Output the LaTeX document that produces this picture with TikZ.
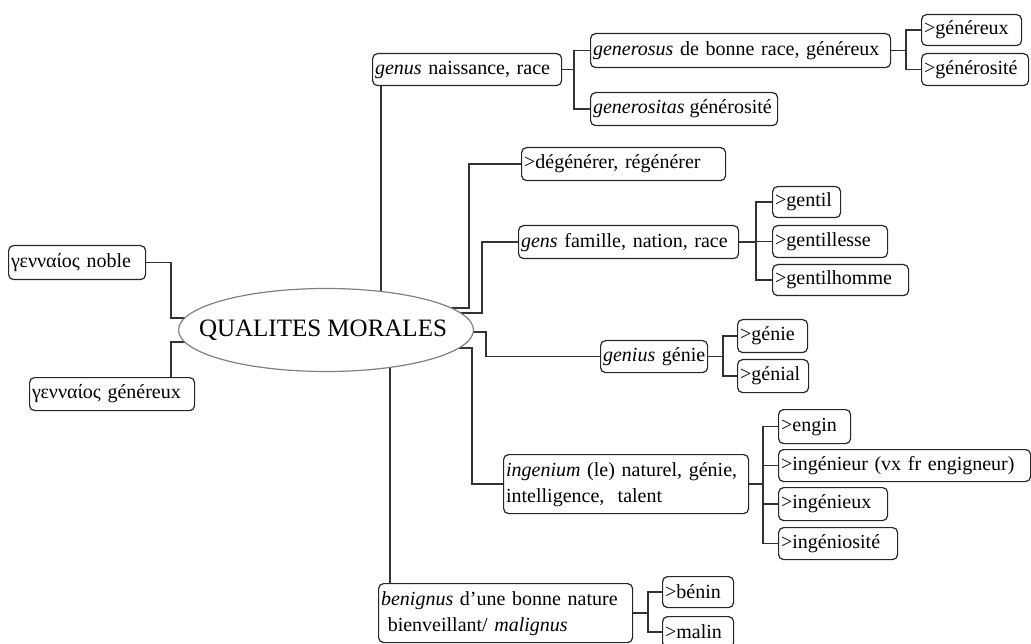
\documentclass[tikz,border=0pt]{standalone}
\usepackage{fontspec}
\setmainfont{Liberation Serif}
\usetikzlibrary{backgrounds}
\newcommand\bxnode[6]{%
  \pgfmathsetmacro\bxw{#4-#2-5}%
  \pgfmathsetmacro\bxh{#5-#3}%
  \node[box, text width=\bxw pt, minimum height=\bxh pt] (#1) at (#2,#3) {\mbox{#6}};}
\newcommand\twolines[2]{\begin{tabular}{@{}l@{}}#1\\#2\end{tabular}}
\begin{document}
\begin{tikzpicture}[x=1pt,y=-1pt,
  box/.style={draw=black!85, line width=1.2pt, rounded corners=5pt, inner xsep=2.5pt, inner ysep=0pt,
    anchor=north west, align=left, font=\fontsize{20}{26.5}\selectfont},
  conn/.style={draw=black!80, line width=1.5pt},
  hubline/.style={draw=black!50, line width=1.2pt, fill=white},
  hubtext/.style={inner sep=0pt, font=\fontsize{25}{30}\selectfont}]
\useasboundingbox (0,0) rectangle (1031,644);
\clip (0,0) rectangle (1031,644);

\path[hubline] (326,330) ellipse [x radius=147.5pt, y radius=41.5pt];
\node[hubtext] (qm) at (323,330) {QUALITES MORALES};

\bxnode{noble}{8}{245}{145}{279}{γενναίος noble}
\bxnode{gen2}{29}{377}{194}{410}{γενναίος généreux}

\bxnode{genus}{372}{53}{561}{85}{\textit{genus} naissance, race}
\bxnode{generosus}{590}{33}{890}{67}{\textit{generosus} de bonne race, généreux}
\bxnode{generositas}{590}{92}{777}{125}{\textit{generositas}\hspace{0.25em}générosité}
\bxnode{genereux}{921}{14}{1021}{45}{>généreux}
\bxnode{generosite}{921}{53}{1028}{85}{>générosité}

\bxnode{degen}{521}{147}{725}{180}{>dégénérer, régénérer}
\bxnode{gens}{518}{225}{738}{258}{\textit{gens} famille, nation, race}
\bxnode{gentil}{772}{186}{840}{217}{>gentil}
\bxnode{gentillesse}{772}{225}{887}{257}{>gentillesse}
\bxnode{gentilhomme}{772}{264}{908}{295}{>gentilhomme}

\bxnode{genius}{600}{340}{707}{372}{\textit{genius} génie}
\bxnode{genie}{737}{319}{807}{352}{>génie}
\bxnode{genial}{737}{359}{808}{392}{>génial}

\bxnode{ingenium}{503}{454}{748}{513}{\twolines{\textit{ingenium} (le) naturel, génie,}{intelligence,\ \ talent}}
\bxnode{engin}{778}{409}{850}{443}{>engin}
\bxnode{ingenieur}{778}{449}{1030}{481}{>ingénieur (vx fr engigneur)}
\bxnode{ingenieux}{778}{487}{887}{520}{>ingénieux}
\bxnode{ingeniosite}{778}{527}{897}{559}{>ingéniosité}

\bxnode{benignus}{378}{583}{632}{642}{\twolines{\textit{benignus} d’une bonne nature}{\ bienveillant/ \textit{malignus}}}
\bxnode{benin}{662}{576}{733}{607}{>bénin}
\bxnode{malin}{662}{616}{733}{647}{>malin}

\begin{pgfonlayer}{background}
% hub connectors
\draw[conn] (noble.east) -| (171,318) -- (qm |- 0,318);
\draw[conn] (171,0 |- gen2.north) -- (171,342) -- (qm |- 0,342);
\draw[conn] (381,0 |- genus.south) -- (381,330);
\draw[conn] (390,0 |- benignus.north) -- (390,330);
\draw[conn] (qm |- 0,308) -- (469,308) |- (degen.west);
\draw[conn] (qm |- 0,313) -- (482,313) |- (gens.west);
\draw[conn] (qm |- 0,332) -- (486,332) |- (genius.west);
\draw[conn] (qm |- 0,348) -- (472,348) |- (ingenium.west);
% forks
\draw[conn] (genus.east) -- ++(12,0) coordinate (j1);
\draw[conn] (generosus.west) -| (j1) |- (generositas.west);
\draw[conn] (generosus.east) -- ++(15,0) coordinate (j2);
\draw[conn] (genereux.west) -| (j2) |- (generosite.west);
\draw[conn] (gens.east) -- ++(17,0) coordinate (j3);
\draw[conn] (gentil.west) -| (j3) |- (gentilhomme.west);
\draw[conn] (j3 |- gentillesse.west) -- (gentillesse.west);
\draw[conn] (genius.east) -- ++(15,0) coordinate (j4);
\draw[conn] (genie.west) -| (j4) |- (genial.west);
\draw[conn] (ingenium.east) -- ++(14,0) coordinate (j5);
\draw[conn] (engin.west) -| (j5) |- (ingeniosite.west);
\draw[conn] (j5 |- ingenieur.west) -- (ingenieur.west);
\draw[conn] (j5 |- ingenieux.west) -- (ingenieux.west);
\draw[conn] (benignus.east) -- ++(15,0) coordinate (j6);
\draw[conn] (benin.west) -| (j6) |- (malin.west);
\end{pgfonlayer}
\end{tikzpicture}
\end{document}
